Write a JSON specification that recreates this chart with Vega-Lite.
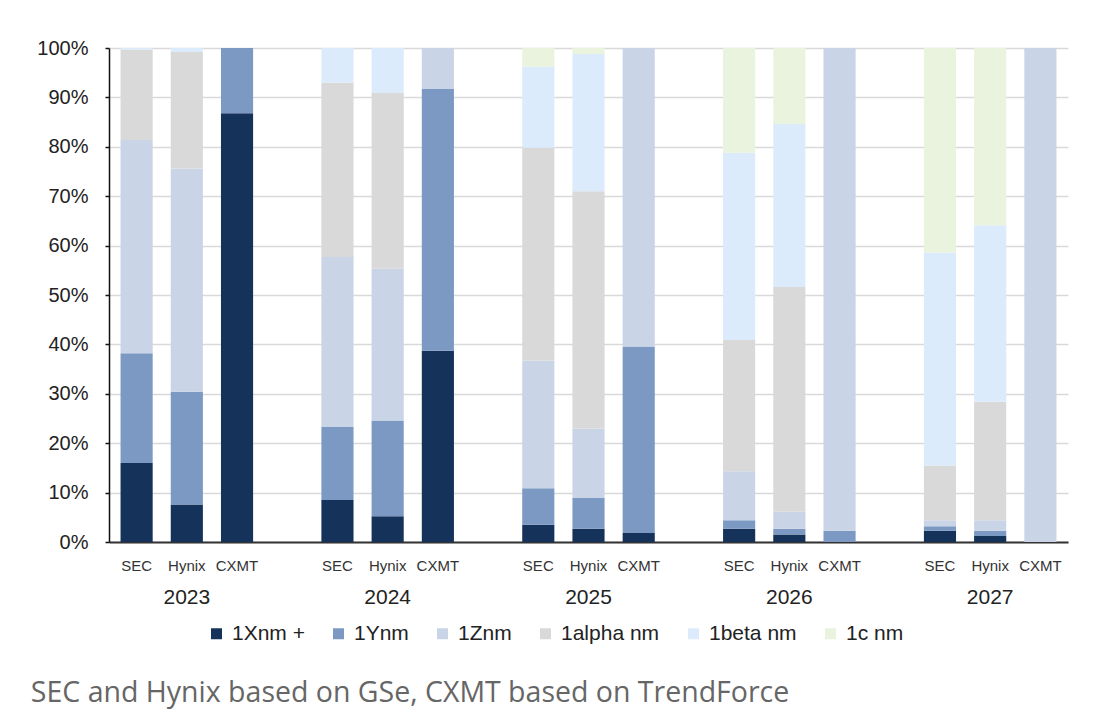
{
  "$schema": "https://vega.github.io/schema/vega-lite/v6.json",
  "width": 959,
  "height": 494,
  "autosize": "none",
  "padding": {"left": 109, "top": 48, "right": 50, "bottom": 180},
  "background": "white",
  "title": {
    "text": "SEC and Hynix based on GSe, CXMT based on TrendForce",
    "orient": "bottom",
    "anchor": "start",
    "frame": "bounds",
    "font": "Open Sans",
    "fontSize": 28.5,
    "fontWeight": "normal",
    "color": "#666666",
    "offset": 35,
    "dx": -6
  },
  "data": {
    "values": [
      {"slot": "2023 SEC", "node": "1Xnm +", "share": 16.0},
      {"slot": "2023 SEC", "node": "1Ynm", "share": 22.2},
      {"slot": "2023 SEC", "node": "1Znm", "share": 43.2},
      {"slot": "2023 SEC", "node": "1alpha nm", "share": 18.3},
      {"slot": "2023 SEC", "node": "1beta nm", "share": 0.3},
      {"slot": "2023 Hynix", "node": "1Xnm +", "share": 7.6},
      {"slot": "2023 Hynix", "node": "1Ynm", "share": 22.8},
      {"slot": "2023 Hynix", "node": "1Znm", "share": 45.2},
      {"slot": "2023 Hynix", "node": "1alpha nm", "share": 23.6},
      {"slot": "2023 Hynix", "node": "1beta nm", "share": 0.8},
      {"slot": "2023 CXMT", "node": "1Xnm +", "share": 86.8},
      {"slot": "2023 CXMT", "node": "1Ynm", "share": 13.2},
      {"slot": "2024 SEC", "node": "1Xnm +", "share": 8.5},
      {"slot": "2024 SEC", "node": "1Ynm", "share": 14.8},
      {"slot": "2024 SEC", "node": "1Znm", "share": 34.4},
      {"slot": "2024 SEC", "node": "1alpha nm", "share": 35.3},
      {"slot": "2024 SEC", "node": "1beta nm", "share": 7.0},
      {"slot": "2024 Hynix", "node": "1Xnm +", "share": 5.2},
      {"slot": "2024 Hynix", "node": "1Ynm", "share": 19.4},
      {"slot": "2024 Hynix", "node": "1Znm", "share": 30.7},
      {"slot": "2024 Hynix", "node": "1alpha nm", "share": 35.6},
      {"slot": "2024 Hynix", "node": "1beta nm", "share": 9.1},
      {"slot": "2024 CXMT", "node": "1Xnm +", "share": 38.7},
      {"slot": "2024 CXMT", "node": "1Ynm", "share": 53.0},
      {"slot": "2024 CXMT", "node": "1Znm", "share": 8.3},
      {"slot": "2025 SEC", "node": "1Xnm +", "share": 3.5},
      {"slot": "2025 SEC", "node": "1Ynm", "share": 7.4},
      {"slot": "2025 SEC", "node": "1Znm", "share": 25.8},
      {"slot": "2025 SEC", "node": "1alpha nm", "share": 43.1},
      {"slot": "2025 SEC", "node": "1beta nm", "share": 16.4},
      {"slot": "2025 SEC", "node": "1c nm", "share": 3.8},
      {"slot": "2025 Hynix", "node": "1Xnm +", "share": 2.7},
      {"slot": "2025 Hynix", "node": "1Ynm", "share": 6.2},
      {"slot": "2025 Hynix", "node": "1Znm", "share": 14.1},
      {"slot": "2025 Hynix", "node": "1alpha nm", "share": 48.0},
      {"slot": "2025 Hynix", "node": "1beta nm", "share": 27.8},
      {"slot": "2025 Hynix", "node": "1c nm", "share": 1.2},
      {"slot": "2025 CXMT", "node": "1Xnm +", "share": 1.8},
      {"slot": "2025 CXMT", "node": "1Ynm", "share": 37.8},
      {"slot": "2025 CXMT", "node": "1Znm", "share": 60.4},
      {"slot": "2026 SEC", "node": "1Xnm +", "share": 2.7},
      {"slot": "2026 SEC", "node": "1Ynm", "share": 1.7},
      {"slot": "2026 SEC", "node": "1Znm", "share": 9.9},
      {"slot": "2026 SEC", "node": "1alpha nm", "share": 26.6},
      {"slot": "2026 SEC", "node": "1beta nm", "share": 37.9},
      {"slot": "2026 SEC", "node": "1c nm", "share": 21.2},
      {"slot": "2026 Hynix", "node": "1Xnm +", "share": 1.5},
      {"slot": "2026 Hynix", "node": "1Ynm", "share": 1.2},
      {"slot": "2026 Hynix", "node": "1Znm", "share": 3.4},
      {"slot": "2026 Hynix", "node": "1alpha nm", "share": 45.5},
      {"slot": "2026 Hynix", "node": "1beta nm", "share": 33.0},
      {"slot": "2026 Hynix", "node": "1c nm", "share": 15.4},
      {"slot": "2026 CXMT", "node": "1Ynm", "share": 2.3},
      {"slot": "2026 CXMT", "node": "1Znm", "share": 97.7},
      {"slot": "2027 SEC", "node": "1Xnm +", "share": 2.3},
      {"slot": "2027 SEC", "node": "1Ynm", "share": 0.9},
      {"slot": "2027 SEC", "node": "1Znm", "share": 1.2},
      {"slot": "2027 SEC", "node": "1alpha nm", "share": 11.1},
      {"slot": "2027 SEC", "node": "1beta nm", "share": 43.1},
      {"slot": "2027 SEC", "node": "1c nm", "share": 41.4},
      {"slot": "2027 Hynix", "node": "1Xnm +", "share": 1.2},
      {"slot": "2027 Hynix", "node": "1Ynm", "share": 1.1},
      {"slot": "2027 Hynix", "node": "1Znm", "share": 2.1},
      {"slot": "2027 Hynix", "node": "1alpha nm", "share": 24.0},
      {"slot": "2027 Hynix", "node": "1beta nm", "share": 35.7},
      {"slot": "2027 Hynix", "node": "1c nm", "share": 35.9},
      {"slot": "2027 CXMT", "node": "1Znm", "share": 100.0}
    ]
  },
  "encoding": {
    "x": {
      "field": "slot",
      "type": "nominal",
      "sort": null,
      "scale": {
        "domain": [
          "2023 SEC", "2023 Hynix", "2023 CXMT", "gap1",
          "2024 SEC", "2024 Hynix", "2024 CXMT", "gap2",
          "2025 SEC", "2025 Hynix", "2025 CXMT", "gap3",
          "2026 SEC", "2026 Hynix", "2026 CXMT", "gap4",
          "2027 SEC", "2027 Hynix", "2027 CXMT"
        ],
        "paddingInner": 0.36,
        "paddingOuter": 0.23
      }
    },
    "y": {
      "field": "share",
      "type": "quantitative",
      "stack": "zero",
      "scale": {"domain": [0, 100], "nice": false}
    },
    "color": {
      "field": "node",
      "type": "nominal",
      "scale": {
        "domain": ["1Xnm +", "1Ynm", "1Znm", "1alpha nm", "1beta nm", "1c nm"],
        "range": ["#15325A", "#7C99C3", "#C9D5E6", "#D9D9D9", "#DBEBFC", "#E9F3DD"]
      }
    },
    "order": {"field": "node", "sort": "ascending"}
  },
  "layer": [
    {
      "mark": {"type": "bar"},
      "encoding": {
        "x": {
          "field": "slot",
          "type": "nominal",
          "sort": null,
          "title": null,
          "axis": {
            "orient": "bottom",
            "labelExpr": "indexof(datum.value, 'gap') == 0 ? '' : split(datum.value, ' ')[1]",
            "labelAngle": 0,
            "labelFont": "Liberation Sans",
            "labelFontSize": 15,
            "labelColor": "#333333",
            "labelPadding": 16,
            "ticks": false,
            "tickSize": 0,
            "grid": false,
            "domainColor": "#333333",
            "domainWidth": 2
          }
        },
        "y": {
          "field": "share",
          "type": "quantitative",
          "stack": "zero",
          "title": null,
          "axis": {
            "values": [0, 10, 20, 30, 40, 50, 60, 70, 80, 90, 100],
            "labelExpr": "datum.value + '%'",
            "labelFont": "Liberation Sans",
            "labelFontSize": 20,
            "labelColor": "#222222",
            "labelPadding": 17,
            "tickSize": 4,
            "tickColor": "#111111",
            "tickWidth": 1.5,
            "domainColor": "#111111",
            "domainWidth": 1.5,
            "grid": true,
            "gridColor": "#D9D9D9",
            "gridWidth": 1.5
          }
        },
        "color": {
          "field": "node",
          "type": "nominal",
          "title": null,
          "legend": {
            "orient": "none",
            "direction": "horizontal",
            "legendX": 97,
            "legendY": 575,
            "symbolType": "square",
            "symbolSize": 121,
            "symbolStrokeWidth": 0,
            "labelFont": "Liberation Sans",
            "labelFontSize": 21,
            "labelColor": "#222222",
            "labelOffset": 5,
            "columnPadding": 23
          }
        }
      }
    },
    {
      "mark": {"type": "bar", "opacity": 0},
      "encoding": {
        "x": {
          "field": "slot",
          "type": "nominal",
          "sort": null,
          "title": null,
          "axis": {
            "orient": "bottom",
            "labelExpr": "indexof(datum.value, 'Hynix') > 0 ? split(datum.value, ' ')[0] : ''",
            "labelAngle": 0,
            "labelFont": "Liberation Sans",
            "labelFontSize": 21,
            "labelColor": "#222222",
            "labelPadding": 44,
            "ticks": false,
            "tickSize": 0,
            "grid": false,
            "domain": false
          }
        }
      }
    }
  ],
  "resolve": {"axis": {"x": "independent"}},
  "config": {"view": {"stroke": null}}
}
